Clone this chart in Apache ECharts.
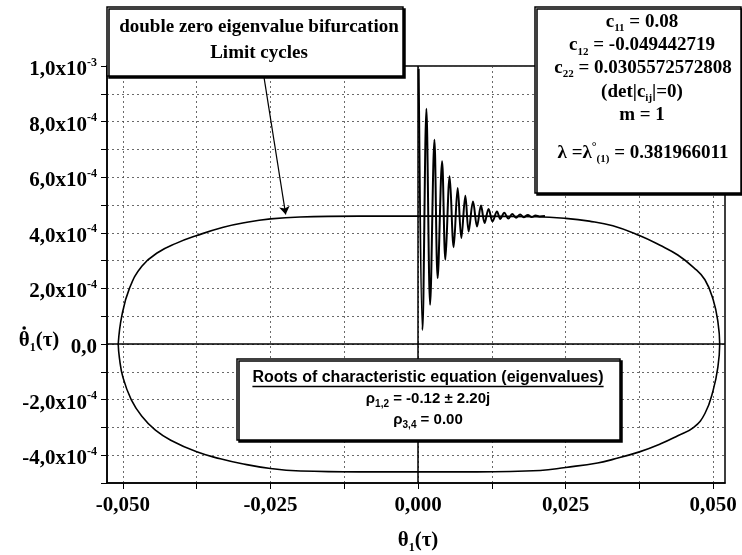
<!DOCTYPE html>
<html><head><meta charset="utf-8">
<script src="https://cdn.jsdelivr.net/npm/echarts@6/dist/echarts.min.js"></script>
<style>html,body{margin:0;padding:0;background:#fff}#c{width:742px;height:555px}</style>
</head><body><div id="c"></div>
<script>
// ---------- data (θ in units of 1e-3, θ̇ in units of 1e-4) ----------
const cycleTheta = [-50.8,-50.2,-48.9,-46.8,-44.0,-41.0,-37.5,-33.0,-29.0,-25.0,-20.0,-10.0,0,10.0,20.0,25.0,29.0,33.0,37.5,41.0,44.0,46.7,48.6,50.0,50.8,51.1,
  50.8,50.0,48.6,46.7,44.0,41.0,37.5,33.0,30.4,25.0,20.7,10.0,0,-10.0,-19.9,-25.0,-30.0,-33.5,-37.5,-41.9,-44.5,-46.8,-48.6,-50.0,-50.6,-50.8];
const cycleThetaDot = [0,1.0,2.0,2.8,3.3,3.62,3.9,4.2,4.38,4.5,4.57,4.6,4.6,4.6,4.58,4.52,4.42,4.25,3.9,3.55,3.2,2.75,2.31,1.59,0.8,0,
  -0.82,-1.66,-2.5,-3.0,-3.3,-3.6,-3.88,-4.15,-4.28,-4.44,-4.55,-4.6,-4.6,-4.6,-4.57,-4.48,-4.3,-4.13,-3.88,-3.46,-3.1,-2.6,-2.0,-1.2,-0.5,0];
const transTheta = [0.1,0.75,1.41,2.04,2.77,3.32,4.07,4.63,5.35,6.03,6.71,7.33,8.01,8.57,9.31,9.99,10.66,11.27,11.95,12.62,13.37,13.93,14.6,15.3,15.95,16.6,17.3,17.9,18.6,19.25,19.9,20.6,21.5];
const transThetaDot = [9.9,0.5,8.46,1.41,7.35,2.37,6.57,3.03,6.03,3.48,5.61,3.81,5.33,4.05,5.13,4.23,4.98,4.35,4.86,4.41,4.77,4.50,4.72,4.51,4.68,4.54,4.66,4.56,4.64,4.57,4.62,4.59,4.6];
const xLabelTicks = [-0.05,-0.025,0,0.025,0.05];
const xGridTicks = [-0.05,-0.0375,-0.025,-0.0125,0,0.0125,0.025,0.0375,0.05];
const yLabelValues = [-4e-4,-2e-4,0,2e-4,4e-4,6e-4,8e-4,1e-3];
const yLabelMantissa = ['-4,0','-2,0','0,0','2,0','4,0','6,0','8,0','1,0'];
const yLabelExponent = ['-4','-4','','-4','-4','-4','-4','-3'];
const arrowFrom = [-0.02615, 9.66e-4];
const arrowTo = [-0.02243, 4.66e-4];

const THETA_UNIT = 1e-3, DOT_UNIT = 1e-4;
const cycleData = cycleTheta.map((t,i)=>[t*THETA_UNIT, cycleThetaDot[i]*DOT_UNIT]);
const transData = transTheta.map((t,i)=>[t*THETA_UNIT, transThetaDot[i]*DOT_UNIT]);

const serif = '"Liberation Serif","Times New Roman",serif';
const sans = '"Liberation Sans",Arial,sans-serif';

const chart = echarts.init(document.getElementById('c'), null, {renderer:'canvas'});

function fmtX(v){ if (Math.abs(v) < 1e-12) return '0,000'; return (v<0?'-':'') + Math.abs(v).toFixed(3).replace('.', ','); }
function fmtY(v){
  const i = yLabelValues.findIndex(t => Math.abs(t - v) < 1e-10);
  if (i < 0) return '';
  return yLabelExponent[i] ? '{m|' + yLabelMantissa[i] + 'x10}{e|' + yLabelExponent[i] + '}' : '{m|' + yLabelMantissa[i] + '}';
}

const boxStyle = {fill:'#fff', stroke:'#000', lineWidth:1.5, shadowColor:'#000', shadowOffsetX:2, shadowOffsetY:2, shadowBlur:0};
function txt(x, y, text, rich, font){
  return {type:'text', x:x, y:y, z:101, silent:true,
    style:{text:text, font:font, fill:'#000', align:'center', verticalAlign:'middle', rich:rich||{}}};
}
const serifB = 'bold 19px ' + serif;
const trRich = {
  c:{fontFamily:serif, fontWeight:'bold', fontSize:19, fill:'#000', lineHeight:24},
  s:{fontFamily:serif, fontWeight:'bold', fontSize:11, fill:'#000', lineHeight:14, verticalAlign:'bottom'},
  u:{fontFamily:serif, fontWeight:'bold', fontSize:12, fill:'#000', lineHeight:12, verticalAlign:'top'}
};
const bRich = {
  b:{fontFamily:sans, fontWeight:'bold', fontSize:15, fill:'#000', lineHeight:20},
  s:{fontFamily:sans, fontWeight:'bold', fontSize:10, fill:'#000', lineHeight:13, verticalAlign:'bottom'}
};
const nameRich = {
  t:{fontFamily:serif, fontWeight:'bold', fontSize:21, fill:'#000', lineHeight:26},
  s:{fontFamily:serif, fontWeight:'bold', fontSize:12, fill:'#000', lineHeight:14, verticalAlign:'bottom'}
};

const rootsTitle = 'Roots of characteristic equation (eigenvalues)';
const mctx = document.createElement('canvas').getContext('2d');
mctx.font = 'bold 16px ' + sans;
const rootsW = mctx.measureText(rootsTitle).width;
// position of the dot over θ in the y-axis name
const yNameX = 39, yNameY = 341;
mctx.font = 'bold 21px ' + serif;
const wTheta = mctx.measureText('θ').width, wPar = mctx.measureText('(τ)').width;
mctx.font = 'bold 12px ' + serif;
const wOne = mctx.measureText('1').width;
const thetaCx = yNameX - (wTheta + wOne + wPar)/2 + wTheta/2;

chart.setOption({
  backgroundColor:'#fff',
  animation:false,
  grid:{left:107, right:17, top:66, bottom:72, show:true, borderColor:'#000', borderWidth:1.5, backgroundColor:'transparent', outerBoundsMode:'none'},
  xAxis:{
    type:'value', min:-0.0527, max:0.052,
    axisLine:{show:true, onZero:false, lineStyle:{color:'#000', width:1.5}},
    axisTick:{show:true, customValues:xGridTicks, length:6, lineStyle:{color:'#000', width:1}},
    axisLabel:{customValues:xLabelTicks, formatter:fmtX, fontFamily:serif, fontWeight:'bold', fontSize:21, color:'#000', margin:12},
    splitLine:{show:true, lineStyle:{color:'#444', width:0.8, type:[2,3]}}
  },
  yAxis:{
    type:'value', min:-5e-4, max:1e-3, interval:1e-4,
    axisLine:{show:true, onZero:false, lineStyle:{color:'#000', width:1.5}},
    axisTick:{show:true, length:6, lineStyle:{color:'#000', width:1}},
    axisLabel:{formatter:fmtY, margin:10, padding:[7,0,0,0],
      rich:{
        m:{fontFamily:serif, fontWeight:'bold', fontSize:21, color:'#000', lineHeight:26},
        e:{fontFamily:serif, fontWeight:'bold', fontSize:12, color:'#000', lineHeight:10, verticalAlign:'top'}
      }},
    splitLine:{show:true, lineStyle:{color:'#444', width:0.8, type:[2,3]}}
  },
  series:[
    {type:'line', name:'limit cycle', data:cycleData, showSymbol:false, symbol:'none', smooth:0.45,
      lineStyle:{color:'#000', width:1.6}, z:3,
      markLine:{silent:true, symbol:['none','none'], label:{show:false},
        lineStyle:{color:'#000', width:1.5, type:'solid'},
        data:[{xAxis:0},{yAxis:0}]}
    },
    {type:'line', name:'transient', data:transData, showSymbol:false, symbol:'none', smooth:0.35,
      lineStyle:{color:'#000', width:2}, z:4,
      markLine:{silent:true, symbol:['none','arrow'], symbolSize:8, label:{show:false},
        lineStyle:{color:'#000', width:1.2, type:'solid'},
        data:[[{coord:arrowFrom},{coord:arrowTo}]]}
    }
  ],
  graphic:[
    {type:'rect', z:100, silent:true, shape:{x:107, y:7, width:296, height:69}, style:boxStyle},
    txt(259, 27, 'double zero eigenvalue bifurcation', null, serifB),
    txt(259, 53, 'Limit cycles', null, serifB),

    {type:'rect', z:100, silent:true, shape:{x:535, y:7, width:206, height:186}, style:boxStyle},
    txt(642, 22, '{c|c}{s|11}{c| = 0.08}', trRich, serifB),
    txt(642, 45.5, '{c|c}{s|12}{c| = -0.049442719}', trRich, serifB),
    txt(643, 68, '{c|c}{s|22}{c| = 0.0305572572808}', trRich, serifB),
    txt(642, 92, '{c|(det|c}{s|ij}{c||=0)}', trRich, serifB),
    txt(642, 115, '{c|m = 1}', trRich, serifB),
    txt(643, 153, '{c|λ =λ}{u|°}{s|(1)}{c| = 0.381966011}', trRich, serifB),

    {type:'rect', z:100, silent:true, shape:{x:237, y:359, width:383, height:81}, style:boxStyle},
    txt(428, 378, rootsTitle, null, 'bold 16px ' + sans),
    {type:'line', z:101, silent:true, shape:{x1:428 - rootsW/2, y1:386.5, x2:428 + rootsW/2, y2:386.5}, style:{stroke:'#000', lineWidth:1.3}},
    txt(428, 399, '{b|ρ}{s|1,2}{b| = -0.12 ± 2.20j}', bRich, 'bold 15px ' + sans),
    txt(428, 420, '{b|ρ}{s|3,4}{b| = 0.00}', bRich, 'bold 15px ' + sans),

    txt(418, 541, '{t|θ}{s|1}{t|(τ)}', nameRich, 'bold 21px ' + serif),
    txt(yNameX, yNameY, '{t|θ}{s|1}{t|(τ)}', nameRich, 'bold 21px ' + serif),
    {type:'circle', z:101, silent:true, shape:{cx:thetaCx, cy:yNameY - 13, r:1.8}, style:{fill:'#000'}}
  ]
});
</script>
</body></html>
